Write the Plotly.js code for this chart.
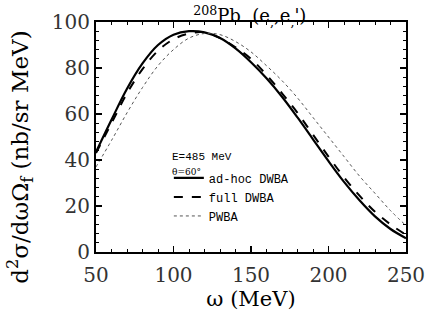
<!DOCTYPE html>
<html>
<head>
<meta charset="utf-8">
<script src="https://cdn.plot.ly/plotly-3.0.1.min.js"></script>
<style>html,body{margin:0;padding:0;background:#fff;}#chart{width:427px;height:322px;}</style>
</head>
<body>
<div id="chart"></div>
<script>
const omega = [50,60,70,80,90,100,110,120,130,140,150,160,170,180,190,200,210,220,230,240,250];
const adHocDWBA = [43.5,57.5,71,82,90,94.5,96,95.5,93,88.5,82.5,75.5,67.5,58.5,49,39.5,30.5,22.5,15.5,10,6];
const fullDWBA  = [43,56,69,79.5,87.5,92.5,95,95.5,93,89,84,77,69,60.5,51,41.5,32.5,24.5,17.5,12,7.5];
const PWBA      = [37,48.5,60.5,71.5,81,88,93,95,94.5,91.5,87,81,74.5,67,58.5,50,41.5,33,25.5,18,11.5];
const seriesNames = ["ad-hoc DWBA","full DWBA","PWBA"];
const xTicks = [50,100,150,200,250];
const yTicks = [0,20,40,60,80,100];

const serif = "DejaVu Serif";
const mono = "Liberation Mono";

const traces = [
  {x: omega, y: adHocDWBA, name: seriesNames[0], mode: "lines", line: {color: "#000", width: 2.2, dash: "solid", shape: "spline"}},
  {x: omega, y: fullDWBA, name: seriesNames[1], mode: "lines", line: {color: "#000", width: 2, dash: "dash", shape: "spline"}},
  {x: omega, y: PWBA, name: seriesNames[2], mode: "lines", line: {color: "#555", width: 1, dash: "dot", shape: "spline"}}
];

const axisCommon = {
  showgrid: false, zeroline: false, showline: true, linecolor: "#000", linewidth: 2,
  mirror: "allticks", ticks: "inside", ticklen: 6, tickwidth: 1.2, tickcolor: "#000",
  tickfont: {family: serif, size: 20, color: "#333"}
};

const layout = {
  width: 427, height: 322,
  margin: {l: 96, r: 21, t: 22, b: 70},
  paper_bgcolor: "#fff", plot_bgcolor: "#fff",
  showlegend: true,
  legend: {x: 0.235, y: 0.385, xanchor: "left", yanchor: "top", bgcolor: "rgba(0,0,0,0)",
           font: {family: mono, size: 12, color: "#000"}, itemwidth: 30, tracegroupgap: 0},
  xaxis: Object.assign({}, axisCommon, {
    range: [50, 250], tickvals: xTicks, ticktext: xTicks.map(String), ticklabelstandoff: 4,
    minor: {dtick: 10, ticks: "inside", ticklen: 3, tickcolor: "#000", tickwidth: 1},
    title: {text: "ω (MeV)", font: {family: serif, size: 21, color: "#000"}, standoff: 2}
  }),
  yaxis: Object.assign({}, axisCommon, {
    range: [0, 100], tickvals: yTicks, ticktext: yTicks.map(String),
    minor: {dtick: 4, ticks: "inside", ticklen: 3, tickcolor: "#000", tickwidth: 1}
  }),
  title: {text: "<sup>208</sup>Pb  (e<sub>,</sub>,e<sub>,</sub>')", font: {family: serif, size: 18, color: "#000"},
          x: 0.585, xanchor: "center", y: 0.95, yanchor: "middle"},
  annotations: [
    {xref: "paper", yref: "paper", x: -0.245, y: 0.41, xanchor: "center", yanchor: "middle", showarrow: false,
     textangle: -90, text: "d<sup>2</sup>σ/dωΩ<sub>f</sub> (nb/sr MeV)", font: {family: serif, size: 23, color: "#000"}},
    {xref: "paper", yref: "paper", x: 0.24, y: 0.415, xanchor: "left", yanchor: "middle", showarrow: false,
     text: "E=485 MeV", font: {family: mono, size: 11, color: "#000"}},
    {xref: "paper", yref: "paper", x: 0.24, y: 0.35, xanchor: "left", yanchor: "middle", showarrow: false,
     text: "θ=60°", font: {family: serif, size: 9, color: "#000"}}
  ]
};

Plotly.newPlot("chart", traces, layout, {displayModeBar: false, staticPlot: true});
</script>
</body>
</html>
